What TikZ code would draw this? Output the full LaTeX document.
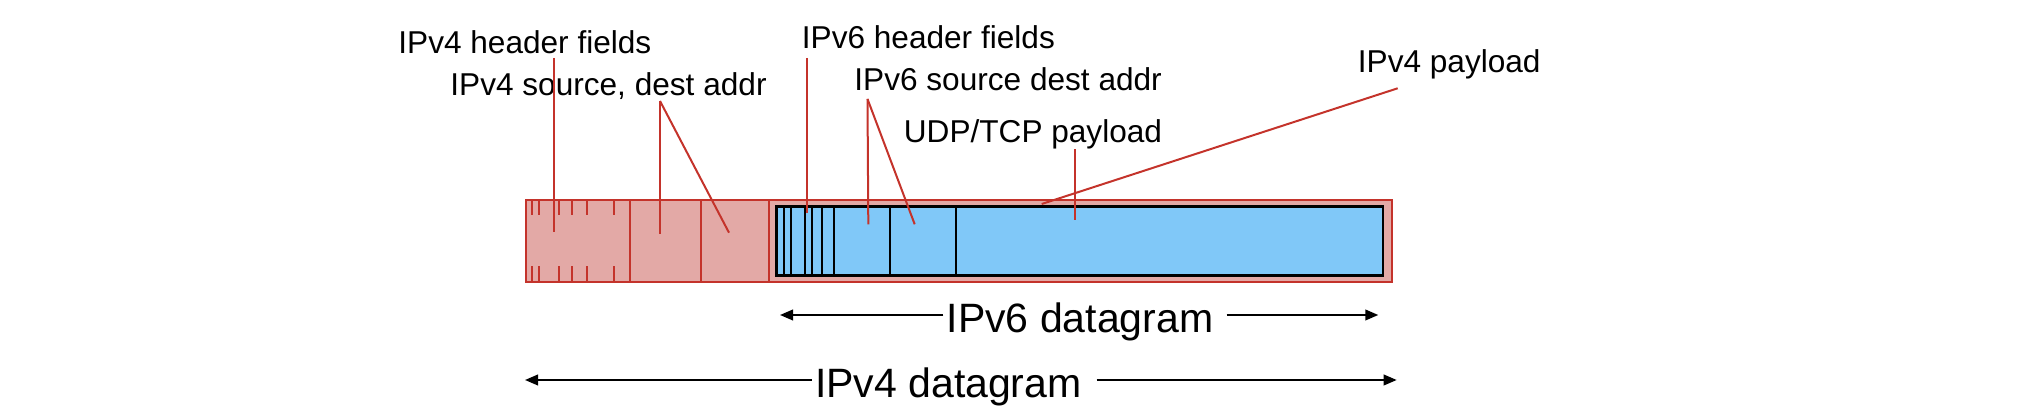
\documentclass[tikz,border=0pt]{standalone}
\usepackage{fontspec}
\setmainfont{Liberation Sans}
\usetikzlibrary{arrows.meta}
\definecolor{redline}{HTML}{C4332B}
\definecolor{redfill}{HTML}{E3A9A6}
\definecolor{bluefill}{HTML}{80C8F8}
\begin{document}
\begin{tikzpicture}[x=0.5pt,y=-0.5pt,
  lab/.style={anchor=base west, inner sep=0pt, font=\fontsize{15.8}{18}\selectfont},
  big/.style={anchor=base west, inner sep=0pt, font=\fontsize{20.5}{24}\selectfont},
  redln/.style={draw=redline, line width=1pt},
  blkln/.style={draw=black, line width=1pt},
  dgarrow/.style={draw=black, line width=1pt, -{Triangle[length=6.5pt,width=5.3pt]}},
]
\useasboundingbox (0,0) rectangle (2018,410);

% outer IPv4 datagram
\path[fill=redfill, draw=redline, line width=1pt] (526,200.3) rectangle (1391.7,282.3);
\foreach \x in {532,539.3,559.3,571.7,586.7,614} {
  \draw[redln] (\x,200.3) -- (\x,215.5);
  \draw[redln] (\x,266.2) -- (\x,282.3);
}
\foreach \x in {630,700.7,769.3} \draw[redln] (\x,200.3) -- (\x,282.3);

% inner IPv6 datagram
\path[fill=bluefill, draw=black, line width=1.4pt] (776.5,206.4) rectangle (1383,275.8);
\foreach \x in {783.7,791.3,805,812.3,822,834,889.7,956.3} \draw[blkln] (\x,206.4) -- (\x,275.8);

% labels
\node[lab] (l4h) at (398,54) {IPv4 header fields};
\node[lab] (l4s) at (450,96) {IPv4 source, dest addr};
\node[lab] (l6h) at (801.5,49) {IPv6 header fields};
\node[lab] (l6s) at (854,91) {IPv6 source dest addr};
\node[lab] (lup) at (903.5,143) {UDP/TCP payload};
\node[lab] (l4p) at (1357.5,72.7) {IPv4 payload};

% leader lines
\coordinate (a1) at (553.7,58);   \coordinate (b1) at (553.7,231.7);
\coordinate (a2) at (660,101);    \coordinate (b2) at (660,234);  \coordinate (c2) at (729,232.7);
\coordinate (a3) at (806.5,58);   \coordinate (b3) at (806.5,213.3);
\coordinate (a4) at (867.5,99);   \coordinate (b4) at (868.3,224.3); \coordinate (c4) at (914.7,224.3);
\coordinate (a5) at (1075.3,149.3); \coordinate (b5) at (1075.3,220);
\coordinate (a6) at (1397.7,88.3); \coordinate (b6) at (1041.7,204);
\draw[redln] (a1) -- (b1);
\draw[redln] (a2) -- (b2);
\draw[redln] (a2) -- (c2);
\draw[redln] (a3) -- (b3);
\draw[redln] (a4) -- (b4);
\draw[redln] (a4) -- (c4);
\draw[redln] (a5) -- (b5);
\draw[redln] (a6) -- (b6);

% datagram arrows
\node[big] (t6) at (946.3,332.7) {IPv6 datagram};
\node[big] (t4) at (814.6,398) {IPv4 datagram};
\coordinate (v6a) at (943.3,315); \coordinate (v6L) at (780,315);
\coordinate (v6b) at (1226.7,315); \coordinate (v6R) at (1378.3,315);
\coordinate (v4a) at (811.7,380); \coordinate (v4L) at (525,380);
\coordinate (v4b) at (1096.7,380); \coordinate (v4R) at (1396.7,380);
\draw[dgarrow] (v6a) -- (v6L);
\draw[dgarrow] (v6b) -- (v6R);
\draw[dgarrow] (v4a) -- (v4L);
\draw[dgarrow] (v4b) -- (v4R);
\end{tikzpicture}
\end{document}
